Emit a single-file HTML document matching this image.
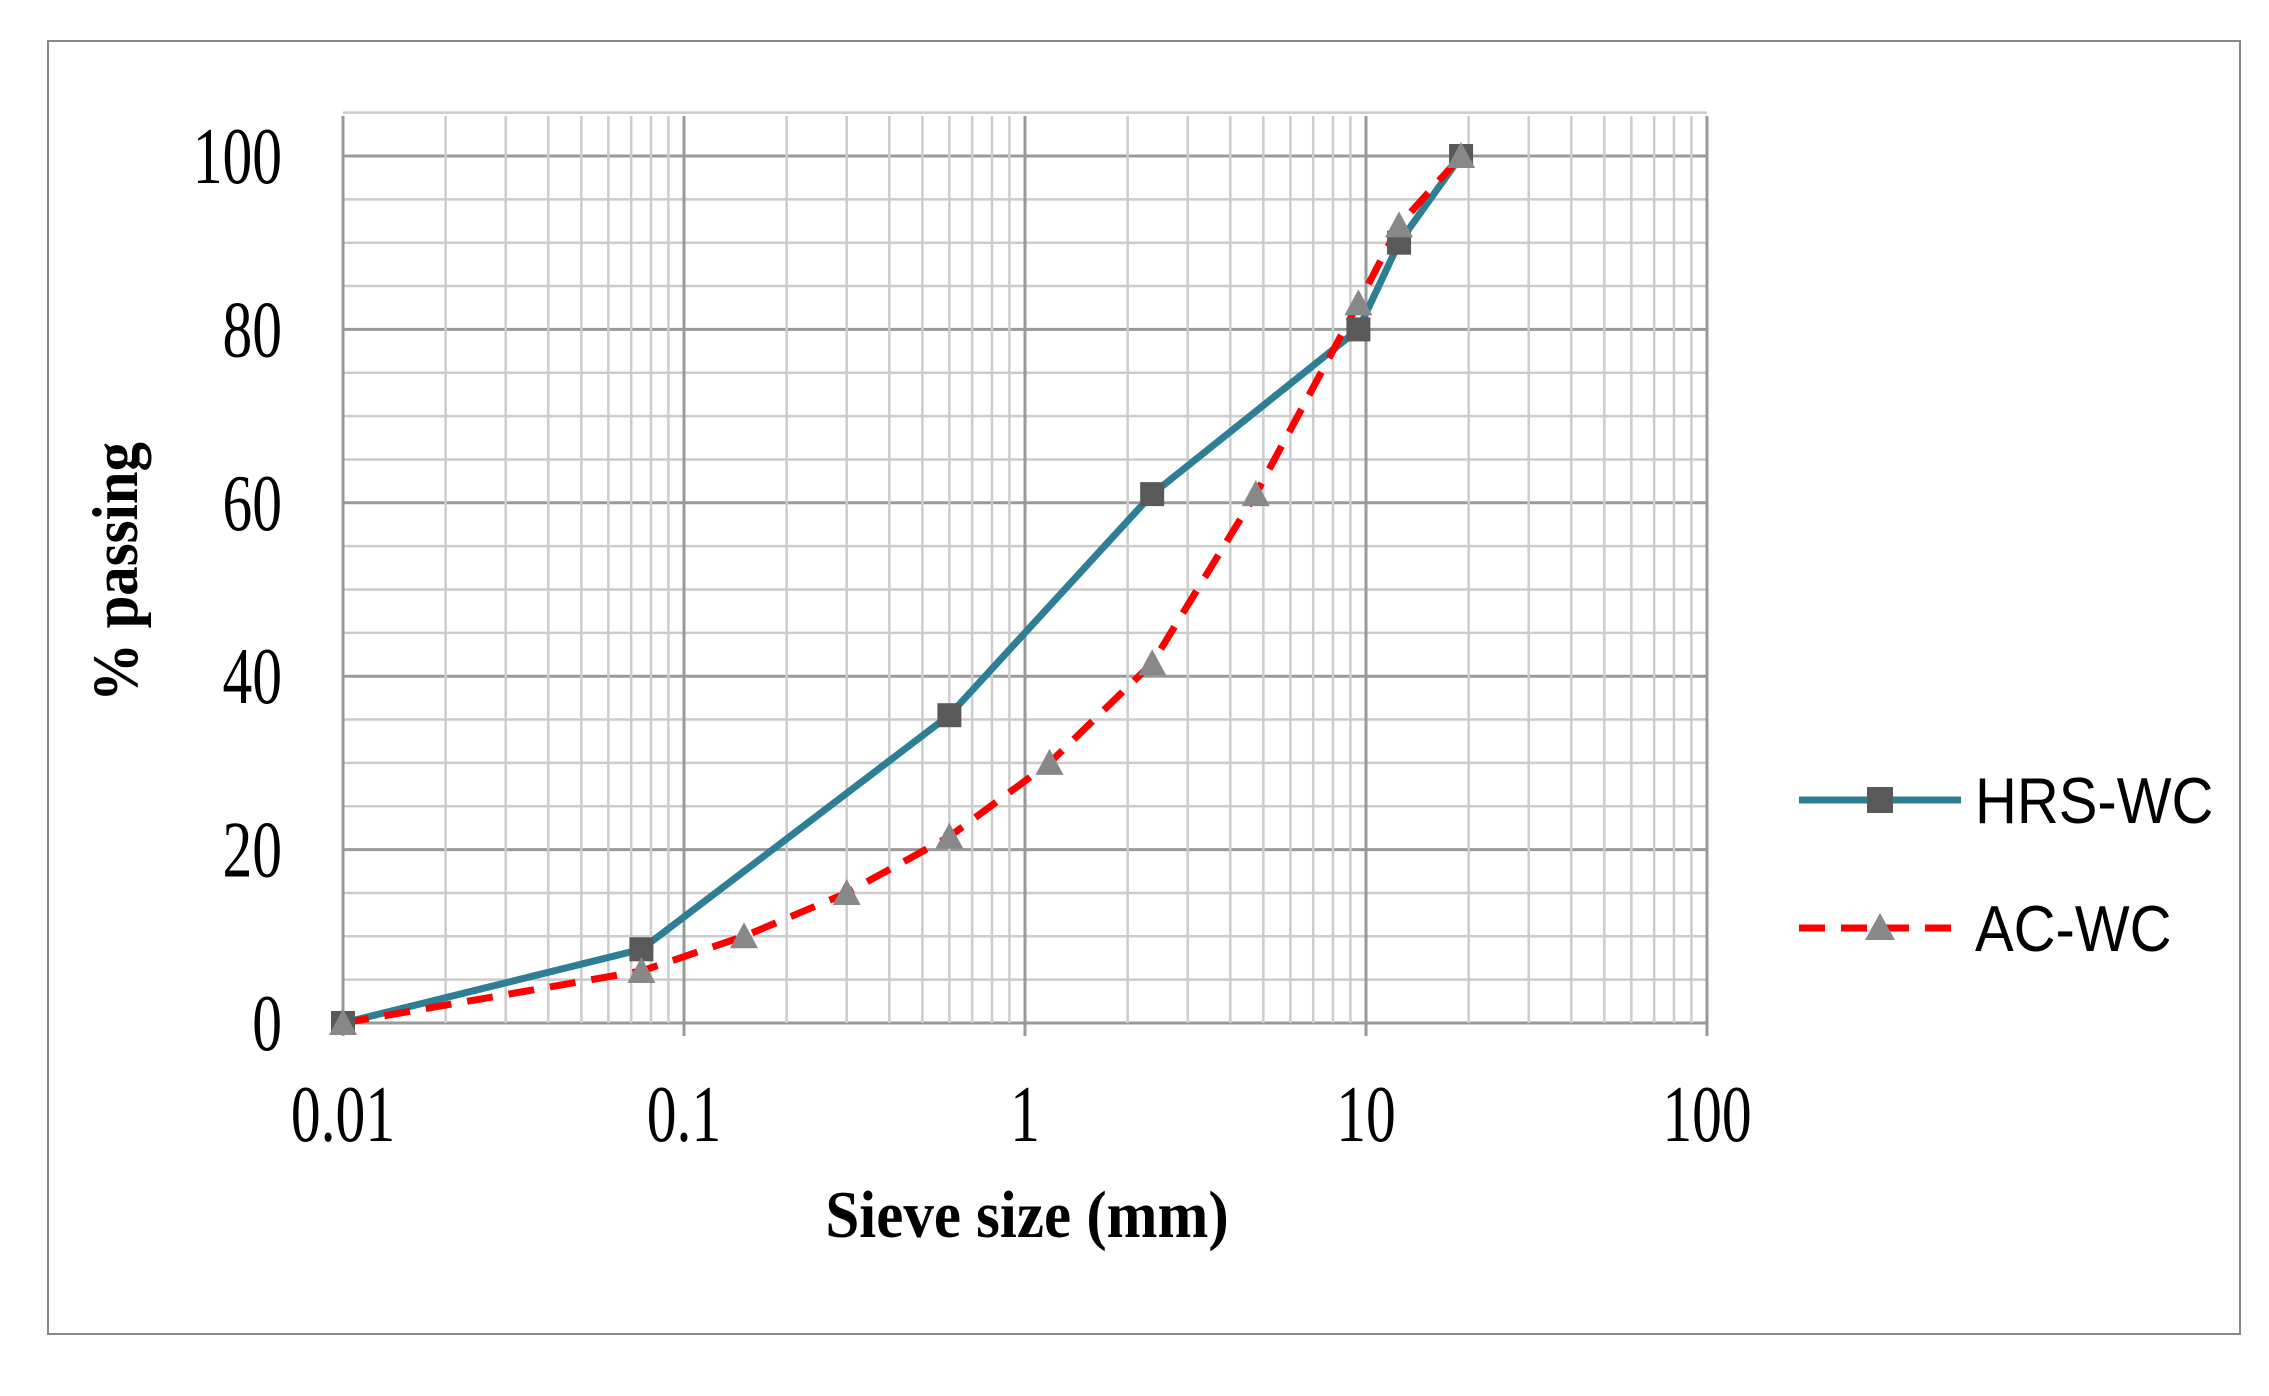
<!DOCTYPE html>
<html><head><style>body{margin:0;background:#fff}</style></head><body>
<svg width="2269" height="1391" xmlns="http://www.w3.org/2000/svg">
<rect x="0" y="0" width="2269" height="1391" fill="#fff"/>
<rect x="48" y="41" width="2192" height="1293" fill="#fff" stroke="#888" stroke-width="2"/>
<g id="grid"></g>
<g id="labels" font-family="Liberation Serif, serif" fill="#000"></g>
<text transform="translate(1027,1237) scale(1.09,1.2)" font-family="Liberation Serif, serif" font-size="56" font-weight="bold" text-anchor="middle">Sieve size (mm)</text>
<text transform="translate(137,572) rotate(-90) scale(1.05,1.15)" font-family="Liberation Serif, serif" font-size="56" font-weight="bold" text-anchor="middle">% passing</text>
<g id="series"></g>
<line x1="1799" y1="800" x2="1961" y2="800" stroke="#2e7f96" stroke-width="7"/>
<rect x="1867" y="787" width="26" height="26" fill="#595959"/>
<line x1="1799" y1="928" x2="1961" y2="928" stroke="#f00" stroke-width="7" stroke-dasharray="26,16"/>
<polygon points="1880,913 1895,940 1865,940" fill="#888"/>
<g font-family="Liberation Sans, sans-serif" font-size="58" fill="#000">
<text transform="translate(1975,823) scale(1.0,1.12)">HRS-WC</text><text transform="translate(1975,951) scale(1.0,1.12)">AC-WC</text>
</g>
</svg>
<script>
const ns="http://www.w3.org/2000/svg";
const X=v=>343+341*Math.log10(v/0.01), Y=v=>1023-8.67*v;
const g=document.getElementById('grid');
function L(p,x1,y1,x2,y2,c,w){const l=document.createElementNS(ns,'line');l.setAttribute('x1',x1);l.setAttribute('y1',y1);l.setAttribute('x2',x2);l.setAttribute('y2',y2);l.setAttribute('stroke',c);l.setAttribute('stroke-width',w);p.appendChild(l);}
for(let v=0;v<=105;v+=5){L(g,343,Y(v),1707,Y(v),v%20==0?'#999':'#ccc',v%20==0?3:2.5);}
L(g,332,Y(0),1707,Y(0),'#999',3);
for(let d=0;d<4;d++)for(let k=1;k<=9;k++){const x=X(0.01*Math.pow(10,d)*k);L(g,x,116,x,k==1?1036:1023,k==1?'#999':'#ccc',k==1?3:2.5);}
L(g,1707,116,1707,1036,'#999',3);
const lab=document.getElementById('labels');
function T(x,y,s,anchor){const t=document.createElementNS(ns,'text');t.setAttribute('transform',`translate(${x},${y}) scale(0.93,1.25)`);t.setAttribute('font-size',64);t.setAttribute('text-anchor',anchor);t.textContent=s;lab.appendChild(t);}
[0,20,40,60,80,100].forEach(v=>T(282,Y(v)+27,v,'end'));
[['0.01',343],['0.1',684],['1',1025],['10',1366],['100',1707]].forEach(a=>T(a[1],1141,a[0],'middle'));
const s=document.getElementById('series');
const H=[[0.01,0],[0.075,8.5],[0.6,35.5],[2.36,61],[9.5,80],[12.5,90],[19,100]];
const A=[[0.01,0],[0.075,6],[0.15,10],[0.3,15],[0.6,21.5],[1.18,30],[2.36,41.5],[4.75,61],[9.5,83],[12.5,92],[19,100]];
function P(d,c,dash){const p=document.createElementNS(ns,'polyline');p.setAttribute('points',d.map(q=>X(q[0])+','+Y(q[1])).join(' '));p.setAttribute('fill','none');p.setAttribute('stroke',c);p.setAttribute('stroke-width',7);if(dash)p.setAttribute('stroke-dasharray',dash);s.appendChild(p);}
P(H,'#2e7f96');P(A,'#f00','26,16');
H.forEach(q=>{const r=document.createElementNS(ns,'rect');r.setAttribute('x',X(q[0])-12);r.setAttribute('y',Y(q[1])-12);r.setAttribute('width',24);r.setAttribute('height',24);r.setAttribute('fill','#595959');s.appendChild(r);});
A.forEach(q=>{const x=X(q[0]),y=Y(q[1]);const t=document.createElementNS(ns,'polygon');t.setAttribute('points',`${x},${y-14} ${x+14},${y+12} ${x-14},${y+12}`);t.setAttribute('fill','#888');s.appendChild(t);});
</script>
</body></html>
